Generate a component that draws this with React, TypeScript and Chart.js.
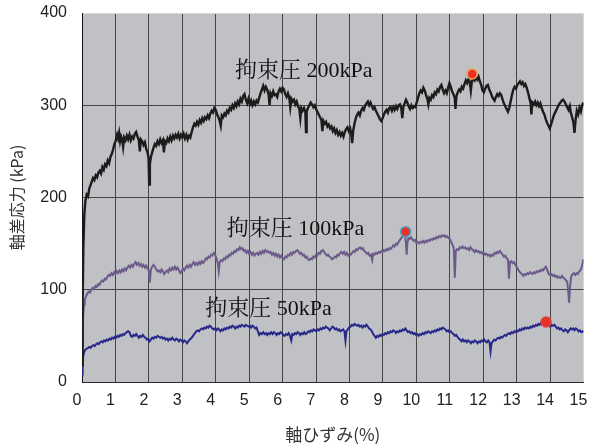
import { useEffect, useRef } from "react";
import { Chart, registerables } from "chart.js";

Chart.register(...registerables);

// Axial strain (%) vs deviator stress (kPa) for three confining pressures
const STRESS_200: [number, number][] = [
  [0, 18], [0.02, 90], [0.04, 145], [0.07, 182], [0.1, 196], [0.14, 203], [0.18, 201], [0.22, 210], [0.26, 214], [0.3, 218],
  [0.33, 221], [0.37, 219], [0.41, 224], [0.45, 222], [0.49, 227], [0.53, 229], [0.57, 226], [0.61, 233], [0.65, 230], [0.69, 236],
  [0.73, 234], [0.77, 240], [0.81, 237], [0.85, 244], [0.89, 247], [0.93, 252], [0.97, 258], [1.01, 262], [1.05, 268], [1.08, 264],
  [1.11, 270], [1.14, 261], [1.17, 266], [1.2, 263], [1.23, 255], [1.26, 265], [1.3, 262], [1.34, 267], [1.38, 263], [1.42, 268],
  [1.46, 262], [1.5, 266], [1.54, 264], [1.58, 269], [1.62, 271], [1.66, 266], [1.7, 262], [1.73, 250], [1.76, 263], [1.8, 261],
  [1.84, 257], [1.88, 260], [1.92, 253], [1.96, 249], [1.99, 243], [2.01, 214], [2.03, 236], [2.06, 244], [2.1, 249], [2.14, 254],
  [2.18, 258], [2.22, 256], [2.26, 261], [2.3, 258], [2.34, 263], [2.38, 259], [2.42, 262], [2.45, 249], [2.48, 261], [2.52, 259],
  [2.56, 264], [2.6, 261], [2.64, 266], [2.68, 262], [2.72, 267], [2.76, 264], [2.8, 268], [2.84, 265], [2.88, 269], [2.92, 264],
  [2.96, 268], [3.0, 265], [3.04, 269], [3.08, 264], [3.12, 268], [3.16, 263], [3.2, 267], [3.24, 265], [3.28, 271], [3.32, 276],
  [3.36, 280], [3.4, 278], [3.44, 282], [3.48, 279], [3.52, 284], [3.56, 281], [3.6, 286], [3.64, 283], [3.68, 287], [3.72, 285],
  [3.76, 289], [3.8, 286], [3.84, 291], [3.88, 294], [3.92, 292], [3.96, 297], [4.0, 295], [4.04, 290], [4.08, 287], [4.12, 283],
  [4.15, 278], [4.18, 289], [4.22, 287], [4.26, 291], [4.3, 289], [4.34, 294], [4.38, 292], [4.42, 297], [4.46, 295], [4.5, 300],
  [4.54, 297], [4.58, 302], [4.62, 299], [4.66, 304], [4.7, 301], [4.74, 307], [4.78, 304], [4.82, 310], [4.86, 312], [4.9, 306],
  [4.94, 302], [4.98, 307], [5.02, 301], [5.06, 305], [5.1, 300], [5.14, 304], [5.18, 301], [5.22, 305], [5.26, 303], [5.3, 308],
  [5.34, 313], [5.38, 317], [5.42, 321], [5.46, 316], [5.5, 320], [5.54, 317], [5.58, 312], [5.61, 300], [5.64, 313], [5.68, 310],
  [5.72, 315], [5.76, 311], [5.8, 312], [5.84, 309], [5.88, 315], [5.92, 318], [5.96, 315], [6.0, 319], [6.04, 317], [6.08, 312],
  [6.12, 309], [6.16, 313], [6.2, 308], [6.23, 298], [6.26, 307], [6.3, 304], [6.34, 306], [6.38, 301], [6.42, 304], [6.46, 299],
  [6.5, 296], [6.53, 286], [6.56, 297], [6.6, 294], [6.64, 297], [6.68, 293], [6.7, 271], [6.72, 293], [6.76, 297], [6.8, 300],
  [6.84, 303], [6.88, 301], [6.92, 298], [6.96, 300], [7.0, 296], [7.04, 293], [7.08, 290], [7.12, 287], [7.16, 284], [7.19, 272],
  [7.22, 283], [7.26, 280], [7.3, 282], [7.34, 277], [7.38, 279], [7.42, 275], [7.46, 277], [7.5, 272], [7.54, 275], [7.58, 270],
  [7.62, 273], [7.66, 268], [7.7, 271], [7.74, 267], [7.78, 270], [7.82, 266], [7.86, 271], [7.9, 274], [7.94, 276], [7.98, 272],
  [8.02, 275], [8.05, 270], [8.08, 259], [8.11, 272], [8.15, 280], [8.19, 286], [8.23, 290], [8.27, 292], [8.31, 289], [8.35, 294],
  [8.39, 297], [8.43, 295], [8.47, 300], [8.51, 302], [8.55, 304], [8.59, 300], [8.63, 303], [8.67, 299], [8.71, 296], [8.75, 298],
  [8.79, 294], [8.83, 291], [8.87, 288], [8.91, 285], [8.95, 283], [8.99, 286], [9.03, 290], [9.07, 293], [9.11, 295], [9.15, 292],
  [9.19, 297], [9.23, 298], [9.27, 294], [9.31, 298], [9.35, 295], [9.39, 299], [9.43, 296], [9.47, 300], [9.51, 301], [9.55, 297],
  [9.58, 286], [9.61, 298], [9.65, 302], [9.69, 306], [9.73, 303], [9.77, 299], [9.81, 296], [9.85, 300], [9.89, 297], [9.93, 299],
  [9.97, 298], [10.01, 303], [10.05, 308], [10.09, 313], [10.13, 316], [10.17, 314], [10.21, 319], [10.25, 316], [10.29, 311], [10.33, 307],
  [10.36, 301], [10.39, 308], [10.43, 306], [10.47, 311], [10.51, 309], [10.55, 314], [10.59, 312], [10.63, 317], [10.67, 315], [10.71, 320],
  [10.75, 322], [10.79, 317], [10.83, 313], [10.87, 316], [10.91, 313], [10.95, 319], [10.99, 324], [11.03, 320], [11.07, 315], [11.11, 312],
  [11.15, 308], [11.17, 296], [11.2, 310], [11.24, 314], [11.28, 317], [11.32, 315], [11.36, 320], [11.4, 318], [11.44, 323], [11.48, 327],
  [11.52, 324], [11.56, 328], [11.6, 325], [11.63, 316], [11.66, 326], [11.7, 329], [11.74, 327], [11.78, 331], [11.82, 328], [11.86, 331],
  [11.9, 326], [11.94, 322], [11.98, 316], [12.02, 314], [12.06, 318], [12.1, 321], [12.14, 322], [12.18, 317], [12.22, 314], [12.26, 310],
  [12.3, 307], [12.34, 305], [12.38, 309], [12.42, 312], [12.46, 310], [12.5, 313], [12.54, 311], [12.58, 306], [12.62, 302], [12.66, 299],
  [12.7, 296], [12.74, 293], [12.78, 297], [12.82, 304], [12.86, 311], [12.9, 317], [12.94, 320], [12.98, 318], [13.02, 322], [13.06, 324],
  [13.1, 326], [13.14, 323], [13.18, 325], [13.22, 321], [13.26, 323], [13.3, 319], [13.34, 314], [13.38, 308], [13.42, 302], [13.44, 290],
  [13.47, 303], [13.51, 301], [13.55, 304], [13.59, 300], [13.63, 303], [13.67, 299], [13.71, 302], [13.75, 297], [13.79, 293], [13.83, 290],
  [13.87, 285], [13.91, 281], [13.95, 278], [13.99, 275], [14.03, 279], [14.07, 284], [14.11, 289], [14.15, 292], [14.19, 295], [14.23, 298],
  [14.27, 301], [14.31, 303], [14.35, 305], [14.39, 306], [14.43, 304], [14.47, 301], [14.51, 298], [14.55, 295], [14.59, 299], [14.62, 292],
  [14.66, 287], [14.7, 281], [14.73, 270], [14.76, 283], [14.8, 294], [14.84, 290], [14.88, 297], [14.92, 293], [14.96, 300], [15.0, 303],
];

const STRESS_100: [number, number][] = [
  [0, 40], [0.02, 60], [0.04, 75], [0.06, 84], [0.08, 89], [0.12, 93], [0.16, 96], [0.2, 98], [0.24, 97], [0.28, 100],
  [0.32, 102], [0.36, 101], [0.4, 104], [0.44, 103], [0.48, 106], [0.52, 105], [0.56, 108], [0.6, 110], [0.64, 109], [0.68, 112],
  [0.72, 111], [0.76, 114], [0.8, 116], [0.84, 115], [0.88, 118], [0.92, 116], [0.96, 119], [1.0, 117], [1.04, 120], [1.08, 118],
  [1.12, 121], [1.16, 119], [1.2, 122], [1.24, 120], [1.28, 123], [1.32, 121], [1.36, 124], [1.4, 126], [1.44, 124], [1.48, 127],
  [1.52, 125], [1.56, 128], [1.6, 130], [1.64, 127], [1.68, 129], [1.72, 126], [1.76, 128], [1.8, 125], [1.84, 127], [1.88, 124],
  [1.92, 126], [1.96, 123], [2.0, 121], [2.03, 108], [2.06, 122], [2.1, 125], [2.14, 127], [2.18, 125], [2.22, 122], [2.26, 120],
  [2.3, 121], [2.34, 119], [2.38, 122], [2.42, 120], [2.46, 117], [2.5, 119], [2.54, 121], [2.58, 119], [2.62, 123], [2.66, 121],
  [2.7, 124], [2.74, 122], [2.78, 125], [2.82, 122], [2.86, 124], [2.9, 121], [2.94, 118], [2.98, 120], [3.02, 123], [3.06, 121],
  [3.1, 124], [3.14, 126], [3.18, 124], [3.22, 127], [3.26, 125], [3.3, 128], [3.34, 130], [3.38, 127], [3.42, 129], [3.46, 127],
  [3.5, 130], [3.54, 128], [3.58, 131], [3.62, 129], [3.66, 131], [3.7, 134], [3.74, 133], [3.78, 136], [3.82, 135], [3.86, 138],
  [3.9, 137], [3.94, 140], [3.98, 138], [4.02, 134], [4.06, 129], [4.09, 120], [4.12, 130], [4.16, 132], [4.2, 131], [4.24, 134],
  [4.28, 133], [4.32, 136], [4.36, 135], [4.4, 138], [4.44, 137], [4.48, 140], [4.52, 139], [4.56, 142], [4.6, 141], [4.64, 144],
  [4.68, 143], [4.72, 146], [4.76, 144], [4.8, 145], [4.84, 142], [4.88, 143], [4.92, 140], [4.96, 142], [5.0, 139], [5.04, 141],
  [5.08, 138], [5.12, 140], [5.16, 137], [5.2, 139], [5.24, 140], [5.28, 138], [5.32, 141], [5.36, 139], [5.4, 142], [5.44, 140],
  [5.48, 143], [5.52, 141], [5.56, 142], [5.6, 140], [5.64, 141], [5.68, 138], [5.72, 140], [5.76, 137], [5.8, 139], [5.84, 136],
  [5.88, 138], [5.92, 135], [5.96, 137], [6.0, 134], [6.04, 133], [6.08, 136], [6.12, 135], [6.16, 138], [6.2, 137], [6.24, 140],
  [6.28, 138], [6.32, 141], [6.36, 140], [6.4, 142], [6.44, 143], [6.48, 141], [6.52, 139], [6.56, 140], [6.6, 137], [6.64, 138],
  [6.68, 135], [6.72, 136], [6.76, 133], [6.8, 132], [6.84, 134], [6.88, 133], [6.92, 136], [6.96, 135], [7.0, 138], [7.04, 137],
  [7.08, 140], [7.12, 139], [7.16, 142], [7.2, 143], [7.24, 141], [7.28, 139], [7.32, 137], [7.36, 138], [7.4, 136], [7.44, 135],
  [7.48, 133], [7.52, 134], [7.56, 136], [7.6, 135], [7.64, 138], [7.68, 137], [7.72, 140], [7.76, 141], [7.8, 139], [7.84, 141],
  [7.88, 138], [7.92, 140], [7.96, 137], [8.0, 139], [8.04, 138], [8.08, 140], [8.12, 142], [8.16, 141], [8.2, 144], [8.24, 143],
  [8.28, 145], [8.32, 146], [8.36, 144], [8.4, 145], [8.44, 142], [8.48, 141], [8.52, 139], [8.56, 140], [8.6, 137], [8.64, 138],
  [8.68, 132], [8.71, 139], [8.75, 138], [8.79, 140], [8.83, 139], [8.87, 141], [8.91, 140], [8.95, 142], [8.99, 141], [9.03, 143],
  [9.07, 142], [9.11, 144], [9.15, 143], [9.19, 145], [9.23, 144], [9.27, 146], [9.31, 148], [9.35, 147], [9.39, 150], [9.43, 149],
  [9.47, 152], [9.51, 154], [9.55, 156], [9.59, 158], [9.63, 160], [9.66, 159], [9.69, 150], [9.71, 138], [9.73, 150], [9.76, 156],
  [9.8, 155], [9.84, 157], [9.88, 155], [9.92, 153], [9.96, 154], [10.0, 151], [10.04, 152], [10.08, 150], [10.12, 152], [10.16, 151],
  [10.2, 153], [10.24, 151], [10.28, 153], [10.32, 152], [10.36, 154], [10.4, 153], [10.44, 155], [10.48, 154], [10.52, 156], [10.56, 155],
  [10.6, 157], [10.64, 156], [10.68, 158], [10.72, 157], [10.76, 159], [10.8, 158], [10.84, 159], [10.88, 157], [10.92, 158], [10.96, 156],
  [11.0, 155], [11.04, 152], [11.08, 149], [11.12, 145], [11.15, 113], [11.18, 142], [11.22, 144], [11.26, 143], [11.3, 146], [11.34, 145],
  [11.38, 147], [11.42, 145], [11.46, 146], [11.5, 144], [11.54, 145], [11.58, 143], [11.62, 146], [11.66, 144], [11.7, 143], [11.74, 141],
  [11.78, 143], [11.82, 141], [11.86, 142], [11.9, 140], [11.94, 141], [11.98, 139], [12.02, 140], [12.06, 138], [12.1, 139], [12.14, 137],
  [12.18, 138], [12.22, 136], [12.26, 138], [12.3, 137], [12.34, 140], [12.38, 139], [12.42, 141], [12.46, 140], [12.5, 142], [12.54, 140],
  [12.58, 138], [12.62, 136], [12.66, 137], [12.7, 134], [12.74, 133], [12.77, 112], [12.8, 130], [12.84, 131], [12.88, 129], [12.92, 130],
  [12.96, 127], [13.0, 125], [13.04, 122], [13.08, 120], [13.12, 118], [13.16, 117], [13.2, 115], [13.24, 117], [13.28, 116], [13.32, 118],
  [13.36, 117], [13.4, 119], [13.44, 118], [13.48, 117], [13.52, 119], [13.56, 118], [13.6, 120], [13.64, 119], [13.68, 121], [13.72, 120],
  [13.76, 122], [13.8, 121], [13.84, 124], [13.88, 125], [13.92, 121], [13.96, 117], [14.0, 116], [14.04, 117], [14.08, 115], [14.12, 116],
  [14.16, 114], [14.2, 115], [14.24, 113], [14.28, 114], [14.32, 113], [14.36, 115], [14.4, 113], [14.44, 112], [14.48, 110], [14.51, 109],
  [14.54, 100], [14.57, 86], [14.6, 104], [14.63, 114], [14.67, 117], [14.71, 118], [14.75, 116], [14.79, 118], [14.83, 117], [14.87, 120],
  [14.91, 121], [14.95, 125], [14.98, 130], [15.0, 133],
];

const STRESS_50: [number, number][] = [
  [0, 8], [0.02, 22], [0.04, 29], [0.07, 33], [0.1, 35], [0.14, 36], [0.18, 37], [0.22, 38], [0.26, 37], [0.3, 39],
  [0.34, 40], [0.38, 39], [0.42, 41], [0.46, 42], [0.5, 41], [0.54, 43], [0.58, 44], [0.62, 43], [0.66, 45], [0.7, 44],
  [0.74, 46], [0.78, 45], [0.82, 47], [0.86, 46], [0.9, 48], [0.94, 47], [0.98, 49], [1.02, 48], [1.06, 50], [1.1, 49],
  [1.14, 51], [1.18, 50], [1.22, 52], [1.26, 51], [1.3, 53], [1.34, 54], [1.38, 55], [1.42, 54], [1.46, 50], [1.5, 49],
  [1.54, 51], [1.58, 50], [1.62, 52], [1.66, 50], [1.7, 48], [1.74, 50], [1.78, 49], [1.82, 51], [1.86, 49], [1.9, 48],
  [1.94, 46], [1.98, 47], [2.02, 44], [2.06, 46], [2.1, 48], [2.14, 47], [2.18, 49], [2.22, 48], [2.26, 50], [2.3, 49],
  [2.34, 48], [2.38, 49], [2.42, 47], [2.46, 48], [2.5, 46], [2.54, 47], [2.58, 45], [2.62, 47], [2.66, 46], [2.7, 48],
  [2.74, 46], [2.78, 45], [2.82, 47], [2.86, 46], [2.9, 44], [2.94, 46], [2.98, 45], [3.02, 43], [3.06, 45], [3.1, 44],
  [3.14, 42], [3.18, 44], [3.22, 46], [3.26, 47], [3.3, 49], [3.34, 51], [3.38, 53], [3.42, 55], [3.46, 56], [3.5, 55],
  [3.54, 57], [3.58, 58], [3.62, 57], [3.66, 59], [3.7, 58], [3.74, 60], [3.78, 59], [3.82, 61], [3.86, 60], [3.9, 58],
  [3.94, 57], [3.98, 58], [4.02, 56], [4.06, 58], [4.1, 57], [4.14, 55], [4.18, 57], [4.22, 56], [4.26, 58], [4.3, 57],
  [4.34, 59], [4.38, 58], [4.42, 60], [4.46, 59], [4.5, 61], [4.54, 60], [4.58, 58], [4.62, 60], [4.66, 59], [4.7, 61],
  [4.74, 60], [4.78, 62], [4.82, 61], [4.86, 60], [4.9, 62], [4.94, 61], [4.98, 60], [5.02, 61], [5.06, 59], [5.1, 61],
  [5.14, 60], [5.18, 58], [5.22, 59], [5.26, 55], [5.3, 51], [5.34, 53], [5.38, 52], [5.42, 54], [5.46, 52], [5.5, 53],
  [5.54, 51], [5.58, 53], [5.62, 52], [5.66, 54], [5.7, 52], [5.74, 54], [5.78, 53], [5.82, 51], [5.86, 53], [5.9, 52],
  [5.94, 54], [5.98, 53], [6.02, 51], [6.06, 50], [6.1, 52], [6.14, 51], [6.18, 53], [6.22, 50], [6.26, 45], [6.29, 52],
  [6.33, 51], [6.37, 53], [6.41, 52], [6.45, 54], [6.49, 53], [6.53, 51], [6.57, 53], [6.61, 52], [6.65, 54], [6.69, 52],
  [6.73, 53], [6.77, 55], [6.81, 54], [6.85, 56], [6.89, 55], [6.93, 57], [6.97, 56], [7.01, 55], [7.05, 57], [7.09, 56],
  [7.13, 58], [7.17, 57], [7.21, 59], [7.25, 58], [7.29, 60], [7.33, 59], [7.37, 58], [7.41, 56], [7.45, 58], [7.49, 60],
  [7.53, 59], [7.57, 57], [7.61, 58], [7.65, 56], [7.69, 57], [7.73, 55], [7.77, 56], [7.81, 57], [7.85, 55], [7.88, 45],
  [7.91, 55], [7.95, 57], [7.99, 59], [8.03, 60], [8.07, 62], [8.11, 61], [8.15, 63], [8.19, 62], [8.23, 61], [8.27, 62],
  [8.31, 60], [8.35, 61], [8.39, 59], [8.43, 61], [8.47, 60], [8.51, 62], [8.55, 60], [8.59, 58], [8.63, 57], [8.67, 55],
  [8.71, 52], [8.75, 50], [8.79, 48], [8.83, 50], [8.87, 49], [8.91, 51], [8.95, 50], [8.99, 52], [9.03, 51], [9.07, 53],
  [9.11, 52], [9.15, 54], [9.19, 53], [9.23, 55], [9.27, 54], [9.31, 56], [9.35, 55], [9.39, 53], [9.43, 55], [9.47, 54],
  [9.51, 56], [9.55, 55], [9.59, 57], [9.63, 56], [9.67, 58], [9.71, 56], [9.75, 54], [9.79, 55], [9.83, 53], [9.87, 54],
  [9.91, 52], [9.95, 53], [9.99, 51], [10.03, 52], [10.07, 50], [10.11, 52], [10.15, 51], [10.19, 53], [10.23, 52], [10.27, 54],
  [10.31, 53], [10.35, 55], [10.39, 54], [10.43, 53], [10.47, 55], [10.51, 54], [10.55, 56], [10.59, 55], [10.63, 57], [10.67, 56],
  [10.71, 58], [10.75, 57], [10.79, 59], [10.83, 58], [10.87, 57], [10.91, 55], [10.95, 56], [10.99, 54], [11.03, 55], [11.07, 53],
  [11.11, 52], [11.15, 50], [11.19, 51], [11.23, 49], [11.27, 47], [11.31, 46], [11.35, 44], [11.39, 46], [11.43, 44], [11.47, 45],
  [11.51, 43], [11.55, 45], [11.59, 44], [11.63, 42], [11.67, 44], [11.71, 43], [11.75, 45], [11.79, 44], [11.83, 42], [11.87, 44],
  [11.91, 43], [11.95, 45], [11.99, 44], [12.03, 46], [12.07, 44], [12.11, 43], [12.15, 45], [12.19, 43], [12.22, 33], [12.25, 42],
  [12.29, 44], [12.33, 46], [12.37, 45], [12.41, 47], [12.45, 48], [12.49, 47], [12.53, 49], [12.57, 48], [12.61, 50], [12.65, 51],
  [12.69, 50], [12.73, 52], [12.77, 53], [12.81, 52], [12.85, 54], [12.89, 53], [12.93, 55], [12.97, 54], [13.01, 56], [13.05, 55],
  [13.09, 57], [13.13, 56], [13.17, 58], [13.21, 57], [13.25, 59], [13.29, 58], [13.33, 59], [13.37, 58], [13.41, 60], [13.45, 59],
  [13.49, 61], [13.53, 60], [13.57, 62], [13.61, 61], [13.65, 63], [13.69, 62], [13.73, 64], [13.77, 63], [13.81, 64], [13.85, 63],
  [13.89, 65], [13.93, 63], [13.97, 62], [14.01, 60], [14.05, 62], [14.09, 61], [14.13, 62], [14.17, 60], [14.21, 58], [14.25, 59],
  [14.29, 57], [14.33, 58], [14.37, 56], [14.41, 55], [14.45, 57], [14.49, 56], [14.53, 54], [14.57, 56], [14.61, 58], [14.65, 57],
  [14.69, 58], [14.73, 56], [14.77, 58], [14.81, 57], [14.85, 55], [14.89, 56], [14.93, 54], [14.97, 55], [15.0, 54],
];

// Peak points marked on each curve
const PEAK_200: [number, number][] = [[11.67, 334]];
const PEAK_100: [number, number][] = [[9.68, 163]];
const PEAK_50: [number, number][] = [[13.88, 65]];

// Curve captions, anchored in data units (left edge, vertical centre)
const CAPTION_TEXTS = ["拘束圧 200kPa", "拘束圧 100kPa", "拘束圧 50kPa"];
const CAPTION_X = [4.58, 4.33, 3.69];
const CAPTION_Y = [337, 166, 79];

const SANS = '"Liberation Sans", Arial, sans-serif';
const CJK = '"Noto Sans CJK JP", "Noto Sans", sans-serif';
const SERIF = '"Liberation Serif", "Noto Serif CJK JP", "Noto Sans CJK JP", serif';

const plotBackground = {
  id: "plotBackground",
  beforeDraw(chart: any) {
    const { ctx, chartArea: a } = chart;
    ctx.save();
    ctx.fillStyle = "#c0c1c5";
    ctx.fillRect(a.left, a.top, a.right - a.left, a.bottom - a.top);
    ctx.restore();
  },
};

const curveCaptions = {
  id: "curveCaptions",
  afterDatasetsDraw(chart: any) {
    const { ctx, scales } = chart;
    ctx.save();
    ctx.font = `22px ${SERIF}`;
    ctx.fillStyle = "#111";
    ctx.textAlign = "left";
    ctx.textBaseline = "middle";
    CAPTION_TEXTS.forEach((t, i) => {
      ctx.fillText(t, scales.x.getPixelForValue(CAPTION_X[i]), scales.y.getPixelForValue(CAPTION_Y[i]));
    });
    ctx.restore();
  },
};

export default function App() {
  const canvasRef = useRef<HTMLCanvasElement | null>(null);

  useEffect(() => {
    if (!canvasRef.current) return;
    const marker = (data: [number, number][], edge: string) => ({
      type: "scatter" as const,
      data,
      pointRadius: 5,
      pointBackgroundColor: "#e8312a",
      pointBorderColor: edge,
      pointBorderWidth: 1.5,
      showLine: false,
    });
    const curve = (data: [number, number][], color: string, width: number) => ({
      type: "line" as const,
      data,
      borderColor: color,
      borderWidth: width,
      pointRadius: 0,
      tension: 0,
      fill: false,
    });

    const chart = new Chart(canvasRef.current, {
      type: "line",
      data: {
        datasets: [
          marker(PEAK_200, "#f2a24a"),
          marker(PEAK_100, "#4aa3c4"),
          marker(PEAK_50, "#d9443a"),
          curve(STRESS_200, "#1c1c1c", 2.4),
          curve(STRESS_100, "#6c5a8a", 2),
          curve(STRESS_50, "#27288a", 2),
        ] as any,
      },
      options: {
        animation: false,
        responsive: false,
        devicePixelRatio: 1,
        layout: { padding: { top: 13, right: 4, left: 0, bottom: 0 } },
        plugins: { legend: { display: false }, tooltip: { enabled: false } },
        scales: {
          x: {
            type: "linear",
            min: 0,
            max: 15,
            ticks: {
              stepSize: 1,
              padding: 9,
              labelOffset: -5,
              autoSkip: false,
              maxRotation: 0,
              color: "#222",
              font: { family: SANS, size: 16 },
            },
            grid: {
              drawTicks: false,
              lineWidth: 1,
              color: (c: any) => (c.tick && c.tick.value === 15 ? "#d8d8da" : "#454545"),
            },
            border: { color: "#2a2a2a", width: 1 },
            title: {
              display: true,
              text: "軸ひずみ(%)",
              color: "#333",
              font: { family: CJK, size: 17 },
              padding: { top: 0, bottom: 2 },
            },
            afterFit(scale: any) {
              scale.height = 65;
              scale.paddingLeft = 0;
              scale.paddingRight = 0;
            },
          },
          y: {
            type: "linear",
            min: 0,
            max: 400,
            ticks: {
              stepSize: 100,
              padding: 15,
              color: "#222",
              font: { family: SANS, size: 16 },
            },
            grid: {
              drawTicks: false,
              lineWidth: 1,
              color: (c: any) => (c.tick && c.tick.value === 400 ? "#d8d8da" : "#454545"),
            },
            border: { color: "#111", width: 1 },
            title: {
              display: true,
              text: "軸差応力 (kPa)",
              color: "#333",
              font: { family: CJK, size: 16 },
              padding: { top: 7, bottom: 0 },
            },
            afterFit(scale: any) {
              scale.width = 82;
              scale.paddingTop = 0;
              scale.paddingBottom = 0;
            },
          },
        },
      },
      plugins: [plotBackground, curveCaptions],
    });
    return () => chart.destroy();
  }, []);

  return (
    <div style={{ position: "absolute", left: 0, top: 0, width: 590, height: 447, background: "#fff" }}>
      <canvas ref={canvasRef} width={590} height={447} style={{ display: "block" }} />
    </div>
  );
}
